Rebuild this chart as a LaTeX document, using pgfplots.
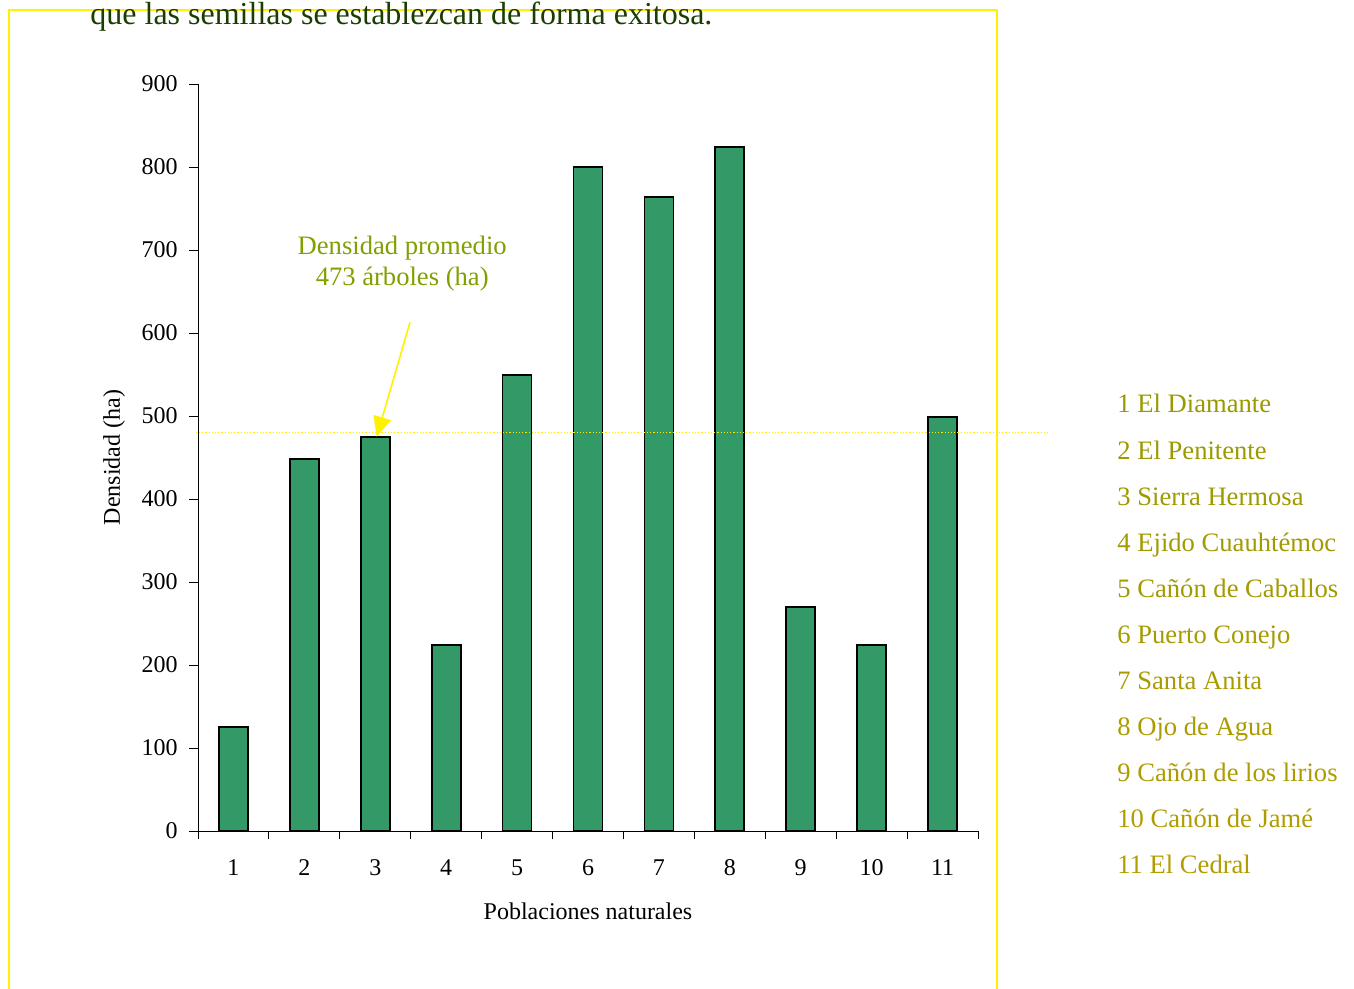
\documentclass[border=0pt]{standalone}
\usepackage{fontspec}
\setmainfont{Liberation Serif}
\usepackage{pgfplots}
\pgfplotsset{compat=1.18}
\usetikzlibrary{arrows.meta}
\definecolor{barfill}{HTML}{339966}
\definecolor{notecol}{HTML}{80A000}
\definecolor{listA}{HTML}{999900}
\definecolor{listB}{HTML}{B39C00}
\definecolor{topgreen}{HTML}{1A3D00}

\pgfplotstableread{
pos dens
1 125
2 448
3 475
4 224
5 549
6 800
7 764
8 824
9 270
10 224
11 499
}\densidad

\begin{document}
\begin{tikzpicture}
\path[use as bounding box] (0,0) rectangle (677pt,-494.5pt);
% yellow frame
\draw[yellow, line width=1pt] (4.5pt,-494.5pt) -- (4.5pt,-5pt) -- (498.5pt,-5pt) -- (498.5pt,-494.5pt);
\node[anchor=base west, inner sep=0pt, text=topgreen, font=\fontsize{16}{19}\selectfont]
  at (45pt,-12.5pt) {que las semillas se establezcan de forma exitosa.};

\begin{axis}[
    at={(99pt,-415.5pt)}, anchor=south west,
    scale only axis, width=390pt, height=373.5pt,
    xmin=0.5, xmax=11.5, ymin=0, ymax=900,
    axis x line*=bottom, axis y line*=left,
    axis line style={black, line width=0.5pt},
    clip=false,
    xtick={1,...,11},
    minor xtick={0.5,1.5,...,11.5},
    major x tick style={draw=none},
    minor tick length=4pt,
    ytick={0,100,...,900},
    major tick length=4.5pt,
    tick align=outside,
    tick style={black, line width=0.5pt},
    /pgf/number format/assume math mode=true,
    ticklabel style={font=\fontsize{12}{14}\selectfont},
    xticklabel style={anchor=base, yshift=-17.5pt},
    yticklabel style={anchor=east, inner sep=0pt, xshift=-5.5pt},
    xlabel={Poblaciones naturales},
    ylabel={Densidad (ha)},
    label style={font=\fontsize{12}{14}\selectfont},
    xlabel style={at={(axis description cs:0.5,-0.1071)}, anchor=center},
    ylabel style={at={(axis description cs:-0.1077,0.5)}, anchor=center},
]
\addplot[ybar, bar width=14.5pt, fill=barfill, draw=black, line width=0.9pt] table[x=pos, y=dens] {\densidad};
\addplot[yellow!90!orange, densely dotted, line width=0.6pt] coordinates {(0.47,480) (12.5,480)};
\node[align=center, text=notecol, font=\fontsize{13.3}{15.5}\selectfont] at (axis cs:3.38,684) {Densidad promedio\\473 árboles (ha)};
\draw[yellow, line width=0.8pt, -{Triangle[length=10pt, width=9pt]}] (axis cs:3.49,613) -- (axis cs:3.02,475);
\end{axis}

\foreach \t [count=\i from 0] in {1 El Diamante, 2 El Penitente, 3 Sierra Hermosa, 4 Ejido Cuauhtémoc, 5 Cañón de Caballos, 6 Puerto Conejo, 7 Santa Anita, 8 Ojo de Agua, 9 Cañón de los lirios, 10 Cañón de Jamé, 11 El Cedral}{
  \pgfmathsetmacro{\mix}{100-10*\i}
  \node[anchor=base west, inner sep=0pt, text=listA!\mix!listB, font=\fontsize{13.3}{16}\selectfont]
    at (558.5pt,{-206.5pt-23pt*\i}) {\t};
}
\end{tikzpicture}
\end{document}
